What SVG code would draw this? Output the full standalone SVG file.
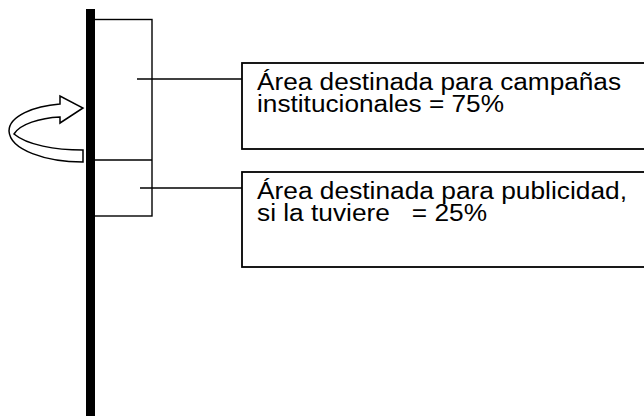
<svg xmlns="http://www.w3.org/2000/svg" width="644" height="416" viewBox="0 0 644 416">
<style>
.ln{stroke:#000;stroke-width:1.4;fill:none}
.box{stroke:#000;stroke-width:1.8;fill:#fff}
.t{font-family:"Liberation Sans",Arial,sans-serif;font-size:23.5px;fill:#000}
</style>
<rect width="644" height="416" fill="#fff"/>
<g id="panel">
<rect x="90" y="19.5" width="62" height="196.5" class="ln"/>
<line x1="95" y1="160" x2="152" y2="160" class="ln"/>
</g>
<g id="pole">
<rect x="86" y="9" width="9" height="407" fill="#000"/>
</g>
<g id="rotation-arrow">
<path d="M60,104 C34,106 9,116 9,131 C10,150 46,162 83,162 L83,150 C55,150 27,145 14,134 C20,124 40,118 60,117 L60,123 L83,108 L60,96 Z" fill="#fff" stroke="#000" stroke-width="1.5" stroke-linejoin="miter"/>
</g>
<g id="connectors">
<line x1="137" y1="79" x2="242" y2="79" class="ln"/>
<line x1="140" y1="188" x2="242" y2="188" class="ln"/>
</g>
<g id="box1">
<rect x="242" y="63" width="410" height="86" class="box"/>
<text class="t" x="257" y="89.5" textLength="364" lengthAdjust="spacingAndGlyphs">Área destinada para campañas</text>
<text class="t" x="257" y="112" textLength="247" lengthAdjust="spacingAndGlyphs">institucionales = 75%</text>
</g>
<g id="box2">
<rect x="242" y="172" width="410" height="95" class="box"/>
<text class="t" x="257" y="198.5" textLength="370" lengthAdjust="spacingAndGlyphs">Área destinada para publicidad,</text>
<text class="t" x="257" y="221" textLength="230" lengthAdjust="spacingAndGlyphs" xml:space="preserve">si la tuviere   = 25%</text>
</g>
</svg>
